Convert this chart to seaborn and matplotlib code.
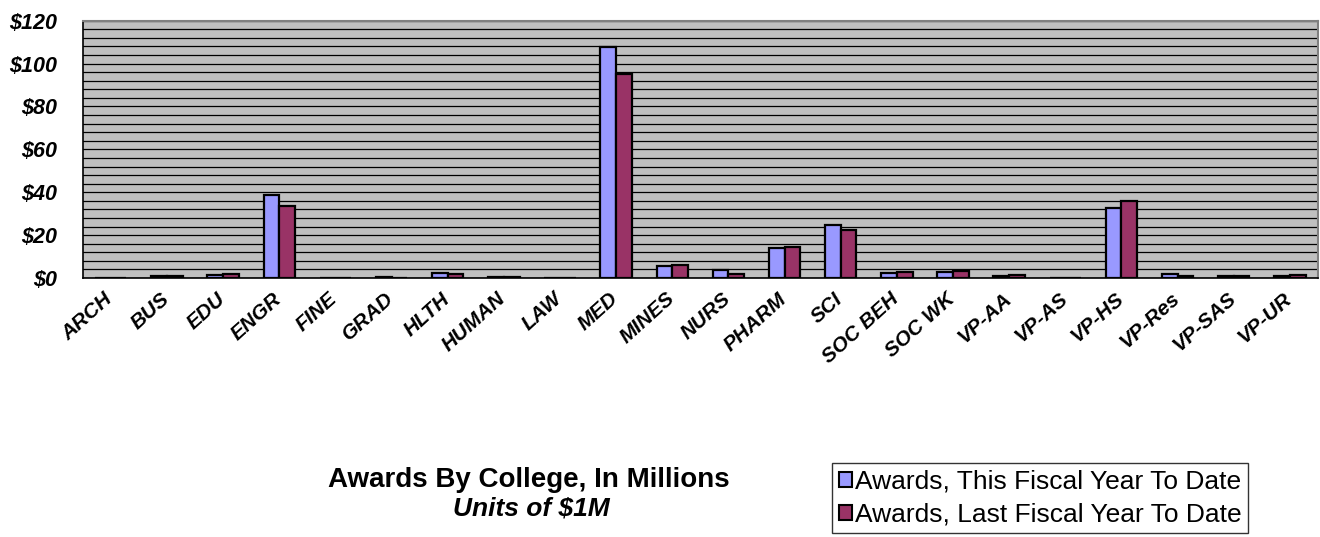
import matplotlib
matplotlib.use("Agg")
import matplotlib.pyplot as plt
import matplotlib.transforms as mtransforms
import seaborn as sns
import pandas as pd
from matplotlib.ticker import MultipleLocator, FixedLocator, FuncFormatter
from matplotlib.patches import Patch

categories = ["ARCH", "BUS", "EDU", "ENGR", "FINE", "GRAD", "HLTH", "HUMAN", "LAW", "MED",
              "MINES", "NURS", "PHARM", "SCI", "SOC BEH", "SOC WK", "VP-AA", "VP-AS",
              "VP-HS", "VP-Res", "VP-SAS", "VP-UR"]
this_year = [0.0, 1.0, 1.5, 38.6, 0.0, 0.3, 2.4, 0.5, 0.0, 107.8,
             5.4, 3.9, 14.0, 24.5, 2.3, 2.8, 1.0, 0.0,
             32.6, 2.0, 0.7, 1.0]
last_year = [0.0, 0.7, 2.0, 33.6, 0.0, 0.0, 2.0, 0.4, 0.0, 95.0,
             6.2, 2.0, 14.3, 22.5, 2.8, 3.3, 1.3, 0.0,
             36.0, 1.0, 0.7, 1.6]
series_names = ["Awards, This Fiscal Year To Date", "Awards, Last Fiscal Year To Date"]
series_colors = ["#9999FF", "#993366"]
title_text = "Awards By College, In Millions"
subtitle_text = "Units of $1M"

df = pd.DataFrame({
    "College": categories * 2,
    "Value": this_year + last_year,
    "Series": [series_names[0]] * len(categories) + [series_names[1]] * len(categories),
})

sns.set_theme(style="white", rc={"text.color": "black", "xtick.color": "black",
                                 "ytick.color": "black", "axes.labelcolor": "black"})
plt.rcParams["font.family"] = ["Liberation Sans", "DejaVu Sans"]

fig = plt.figure(figsize=(13.2, 5.37), dpi=100)
ax = fig.add_axes([82.7 / 1320, 1 - 278 / 537, (1318 - 82.7) / 1320, (278 - 20.7) / 537])
ax.set_facecolor("#C0C0C0")

sns.barplot(data=df, x="College", y="Value", hue="Series", order=categories,
            hue_order=series_names, palette=series_colors, width=0.56,
            edgecolor="black", linewidth=1.6, saturation=1, legend=False, ax=ax, zorder=3)

ax.set_xlim(-0.5, len(categories) - 0.5)
ax.set_ylim(0, 120)
ax.yaxis.set_major_locator(MultipleLocator(20))
ax.yaxis.set_minor_locator(MultipleLocator(4))
ax.yaxis.set_major_formatter(FuncFormatter(lambda v, p: f"${int(v)}"))
ax.grid(True, axis="y", which="both", color="black", linewidth=0.9, zorder=1)
ax.set_axisbelow(True)
ax.tick_params(axis="y", which="major", length=7, width=1, color="black", direction="out",
               labelsize=15.5, pad=11.5, labelcolor="black")
ax.tick_params(axis="y", which="minor", length=0)
for lbl in ax.get_yticklabels():
    lbl.set_fontweight("bold")
    lbl.set_fontstyle("italic")

ax.xaxis.set_minor_locator(FixedLocator([i - 0.5 for i in range(len(categories) + 1)]))
ax.tick_params(axis="x", which="minor", length=7, width=1, color="black", direction="out")
ax.tick_params(axis="x", which="major", length=0, pad=8, labelcolor="black")
ax.set_xticks(range(len(categories)))
ax.set_xticklabels(categories, rotation=42, ha="right", va="top", rotation_mode="anchor",
                   fontsize=15, fontweight="bold", fontstyle="italic")
shift = mtransforms.ScaledTranslation(-7 / 100, 0, fig.dpi_scale_trans)
for lbl in ax.get_xticklabels():
    lbl.set_transform(lbl.get_transform() + shift)
ax.set_xlabel("")
ax.set_ylabel("")

for side in ["top", "right"]:
    ax.spines[side].set_color("#808080")
    ax.spines[side].set_linewidth(1.5)
for side in ["left", "bottom"]:
    ax.spines[side].set_color("black")
    ax.spines[side].set_linewidth(1.2)

fig.text(528.5 / 1320, 1 - 487 / 537, title_text, ha="center", va="baseline",
         fontsize=20, fontweight="bold", color="black")
fig.text(531 / 1320, 1 - 516 / 537, subtitle_text, ha="center", va="baseline",
         fontsize=19, fontweight="bold", fontstyle="italic", color="black")

handles = [Patch(facecolor=c, edgecolor="black", linewidth=1.5) for c in series_colors]
leg = fig.legend(handles, series_names, loc="upper left",
                 bbox_to_anchor=(832 / 1320, 1 - 463 / 537), frameon=True, fancybox=False,
                 shadow=False, fontsize=19, handlelength=0.5, handleheight=0.5,
                 handletextpad=0.12, labelspacing=0.35, borderpad=0.25, borderaxespad=0)
leg.get_frame().set_edgecolor("black")
leg.get_frame().set_linewidth(1.0)

fig.savefig("out.png", dpi=100)
